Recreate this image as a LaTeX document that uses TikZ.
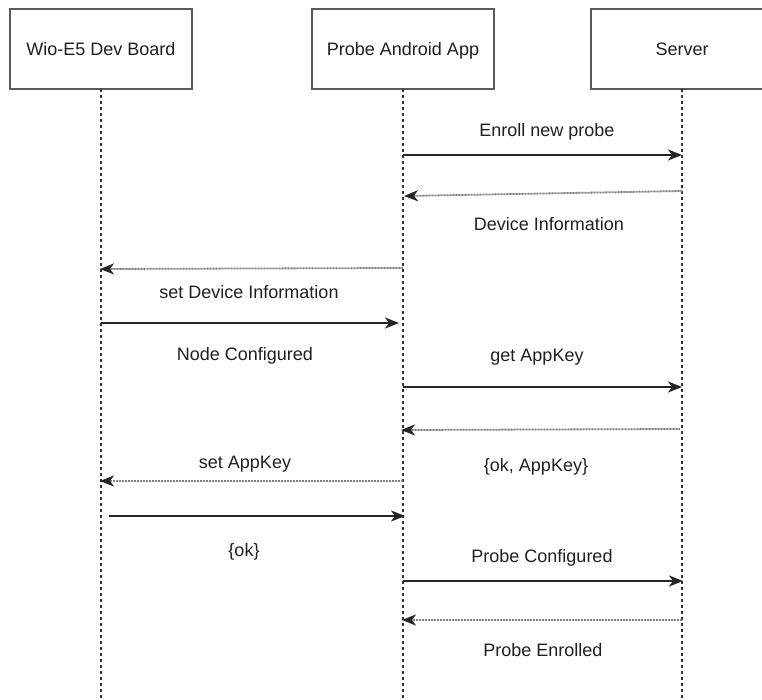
\documentclass[tikz,border=0pt]{standalone}
\usepackage{fontspec}
\setmainfont{Liberation Sans}
\usetikzlibrary{arrows.meta}
\begin{document}
\begin{tikzpicture}[x=1pt,y=-1pt,
  actor/.style={draw=black!65, line width=2.2pt, fill=white, minimum width=182pt, minimum height=80pt, inner sep=0pt, outer sep=0pt, text=black!88, font=\fontsize{18}{20}\selectfont, text height=12.9pt, text depth=0pt},
  lifeline/.style={draw=black!80, line width=1.3pt, dash pattern=on 3pt off 3pt},
  msg/.style={draw=black!85, line width=1.9pt, -{Stealth[length=14pt,width=11pt,inset=4pt]}},
  reply/.style={draw=black!50, line width=1.8pt, dash pattern=on 1pt off 0.5pt, -{Stealth[length=14pt,width=11pt,inset=4pt,color=black!85]}},
  lbl/.style={text=black!88, font=\fontsize{18}{20}\selectfont, inner sep=0pt, text height=12.9pt, text depth=0pt}]
\useasboundingbox (0,0) rectangle (762,700);
% actors
\node[actor] (wio) at (101,49) {Wio-E5 Dev Board};
\node[actor] (app) at (403,49) {Probe Android App};
\node[actor] (srv) at (682,49) {Server};
% lifeline ends
\coordinate (wioEnd) at (101,700);
\coordinate (appEnd) at (403,700);
\coordinate (srvEnd) at (682,700);
\draw[lifeline] (wio.south) -- (wioEnd);
\draw[lifeline] (app.south) -- (appEnd);
\draw[lifeline] (srv.south) -- (srvEnd);
% message anchor points
\coordinate (a1) at (403,155); \coordinate (s1) at (682,155);
\coordinate (s2) at (682,191); \coordinate (a2) at (404,196);
\coordinate (a3) at (403,268); \coordinate (w3) at (100,269);
\coordinate (w4) at (101,323); \coordinate (a4) at (399,323);
\coordinate (a5) at (403,387); \coordinate (s5) at (682,387);
\coordinate (s6) at (680,429); \coordinate (a6) at (401,430);
\coordinate (a7) at (403,481); \coordinate (w7) at (100,481);
\coordinate (w8) at (109,516); \coordinate (a8) at (405,516);
\coordinate (a9) at (403,581); \coordinate (s9) at (683,581);
\coordinate (s10) at (682,620); \coordinate (a10) at (402,620);
% messages
\draw[msg] (a1) -- (s1);
\draw[reply] (s2) -- (a2);
\draw[reply] (a3) -- (w3);
\draw[msg] (w4) -- (a4);
\draw[msg] (a5) -- (s5);
\draw[reply] (s6) -- (a6);
\draw[reply] (a7) -- (w7);
\draw[msg] (w8) -- (a8);
\draw[msg] (a9) -- (s9);
\draw[reply] (s10) -- (a10);
% labels
\node[lbl] (l1) at (547,130) {Enroll new probe};
\node[lbl] (l2) at (549,224) {Device Information};
\node[lbl] (l3) at (249,292) {set Device Information};
\node[lbl] (l4) at (245,354) {Node Configured};
\node[lbl] (l5) at (537,355) {get AppKey};
\node[lbl] (l6) at (536,465) {\{ok, AppKey\}};
\node[lbl] (l7) at (245,462) {set AppKey};
\node[lbl] (l8) at (244,550) {\{ok\}};
\node[lbl] (l9) at (542,556) {Probe Configured};
\node[lbl] (l10) at (543,650) {Probe Enrolled};
\end{tikzpicture}
\end{document}
